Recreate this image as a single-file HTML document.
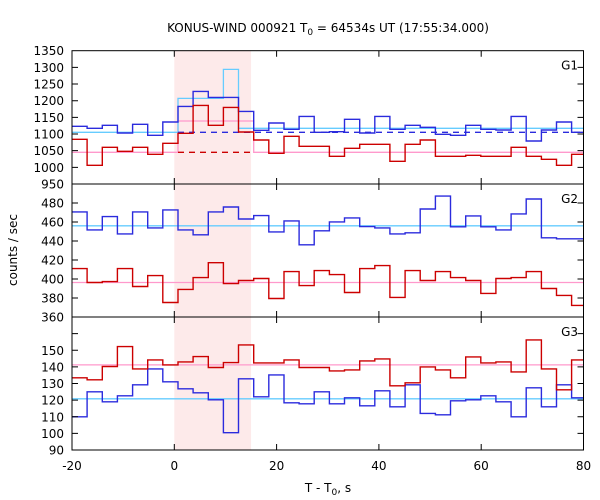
<!DOCTYPE html>
<html><head><meta charset="utf-8"><style>
body{margin:0;background:#fff}
svg{display:block;font-family:"DejaVu Sans","Liberation Sans",sans-serif}
</style></head><body>
<svg id="c" width="600" height="500" xmlns="http://www.w3.org/2000/svg"></svg>
<script>
const g1Blue=[1123,1117,1126,1103,1129,1096,1136,1183,1228,1210,1210,1168,1111,1133,1114,1153,1105,1107,1144,1103,1153,1114,1126,1120,1099,1096,1126,1114,1112,1153,1079,1112,1136,1105];
const g1Red=[1084,1006,1060,1048,1060,1039,1072,1102,1186,1126,1180,1106,1082,1042,1093,1063,1063,1033,1057,1069,1069,1018,1069,1082,1033,1033,1036,1033,1033,1060,1033,1024,1006,1039];
const g2Blue=[470.6,451.7,465.7,447.5,470.6,453.8,472.7,451.7,446.5,470.6,475.8,463.2,466.7,449.6,461.2,436,450.7,460.1,464.3,455.2,453.8,447.5,448.6,473.7,487.3,454.9,466.4,454.9,451.7,468.5,484.2,443.4,442.3,442.3];
const g2Red=[410.9,396.3,397.3,410.9,392.1,403.6,375.3,389,401.5,417.2,395.2,398.4,400.5,379.5,407.8,393.1,408.8,404.6,385.8,410.9,414.1,380.6,408.8,398.4,407.8,401.5,398.4,384.8,400.5,401.5,407.8,390,382.7,372.2];
const g3Blue=[110,125,119,122.6,129.2,138.8,131,126.8,124.4,120.2,100.4,132.8,122,135.2,118.4,117.8,125,117.8,121.4,116.6,125.6,116,129.2,112,111.2,119.6,120.2,122.6,119,110,127.4,116,129.2,121.4];
const g3Red=[133.4,132.2,140.2,152.2,138.8,144.2,141.2,143,146.2,139.6,142.6,153.2,142.4,142.4,144.2,139.6,139.6,137.6,138.2,143.6,144.8,128.6,130.4,140,138.2,133.4,146,142.4,143,137,156.2,138.8,126.2,144.2];
const binStart=-20, binWidth=2.96;
const g1Cyan=[[-20,0.72,1105],[0.72,9.6,1207],[9.6,12.56,1294],[12.56,80,1117]];
const g1Pink=[[-20,0.72,1045],[0.72,15.52,1139],[15.52,80,1045]];
const g1BlueDash=[[0.72,80,1105]];
const g1RedDash=[[0.72,15.52,1045]];
const g2Bg=[456,396.3], g3Bg=[120.8,141.2];
const xTicks=[-20,0,20,40,60,80];
const shade=[0,15];
const panels=[
 {name:'G1',y0:50.7,y1:184,min:950,max:1350,step:50,labels:[950,1000,1050,1100,1150,1200,1250,1300,1350],blue:g1Blue,red:g1Red},
 {name:'G2',y0:184,y1:317,min:360,max:500,step:20,labels:[360,380,400,420,440,460,480],blue:g2Blue,red:g2Red},
 {name:'G3',y0:317,y1:450,min:90,max:170,step:10,labels:[90,100,110,120,130,140,150],blue:g3Blue,red:g3Red}];
const svg=document.getElementById('c');
const NS='http://www.w3.org/2000/svg';
const L=72,R=583.5;
const X=v=>L+(v+20)/100*(R-L);
function mk(t,a,txt){const e=document.createElementNS(NS,t);for(const k in a)e.setAttribute(k,a[k]);if(txt!==undefined)e.textContent=txt;svg.appendChild(e);return e;}
// shading
const sh=mk('rect',{x:X(shade[0]),y:50.7,width:X(shade[1])-X(shade[0]),height:450-50.7,fill:'#fdeaea'});


function steps(vals,Y){let d='';vals.forEach((v,i)=>{const a=Math.max(-20,binStart+i*binWidth),b=Math.min(80,binStart+(i+1)*binWidth);d+=(i?'L':'M')+X(a).toFixed(1)+' '+Y(v).toFixed(1)+'L'+X(b).toFixed(1)+' '+Y(v).toFixed(1);});return d;}
function segs(arr,Y){let d='';arr.forEach((s,i)=>{d+=(i?'L':'M')+X(s[0]).toFixed(1)+' '+Y(s[2]).toFixed(1)+'L'+X(s[1]).toFixed(1)+' '+Y(s[2]).toFixed(1);});return d;}
panels.forEach((p,pi)=>{
 const Y=v=>p.y1-(v-p.min)/(p.max-p.min)*(p.y1-p.y0);
 if(pi==0){
  let e=mk('path',{d:segs(g1Pink,Y),fill:'none',stroke:'#ff99cc','stroke-width':1.3});
  e=mk('path',{d:segs(g1Cyan,Y),fill:'none',stroke:'#66ccff','stroke-width':1.3});
  e=mk('path',{d:segs(g1BlueDash,Y),fill:'none',stroke:'#2b2bdd','stroke-width':1.3,'stroke-dasharray':'6,5'});
  e=mk('path',{d:segs(g1RedDash,Y),fill:'none',stroke:'#cc0000','stroke-width':1.3,'stroke-dasharray':'6,5'});
 } else {
  const bg=pi==1?g2Bg:g3Bg;
  let e=mk('line',{x1:L,x2:R,y1:Y(bg[0]),y2:Y(bg[0]),stroke:'#66ccff','stroke-width':1.3});
  e=mk('line',{x1:L,x2:R,y1:Y(bg[1]),y2:Y(bg[1]),stroke:'#ff99cc','stroke-width':1.3});
 }
 let b=mk('path',{d:steps(p.blue,Y),fill:'none',stroke:'#2b2bdd','stroke-width':1.4});
 
 
 let r=mk('path',{d:steps(p.red,Y),fill:'none',stroke:'#cc0000','stroke-width':1.4});
 
 
 // ticks
 let td='';
 for(let v=p.min+p.step;v<p.max;v+=p.step){td+=`M${L} ${Y(v)}h6M${R} ${Y(v)}h-6`;}
 xTicks.forEach(t=>{td+=`M${X(t)} ${p.y0}v6M${X(t)} ${p.y1}v-6`;});
 let tk=mk('path',{d:td,stroke:'#000','stroke-width':1});
 
 
 let fr=mk('rect',{x:L,y:p.y0,width:R-L,height:p.y1-p.y0,fill:'none',stroke:'#000','stroke-width':1});
 
 
 p.labels.forEach(v=>{let t=mk('text',{x:64,y:Y(v)+4.5,'font-size':12,'text-anchor':'end'},String(v));
  
  });
 let n=mk('text',{x:578,y:p.y0+19,'font-size':12,'text-anchor':'end'},p.name);
 
 
});
xTicks.forEach(t=>{let e=mk('text',{x:X(t),y:470,'font-size':12,'text-anchor':'middle'},String(t));
 
 });
</script>
<svg width="600" height="500" style="position:absolute;left:0;top:0" xmlns="http://www.w3.org/2000/svg">
<text x="328" y="32" font-size="12" text-anchor="middle" font-family="DejaVu Sans,sans-serif">KONUS-WIND 000921 T<tspan font-size="9" dy="3">0</tspan><tspan dy="-3"> = 64534s UT (17:55:34.000)</tspan></text>
<text x="328" y="492" font-size="12" text-anchor="middle" font-family="DejaVu Sans,sans-serif">T - T<tspan font-size="9" dy="3">0</tspan><tspan dy="-3">, s</tspan></text>
<text transform="translate(17,250) rotate(-90)" font-size="12" text-anchor="middle" font-family="DejaVu Sans,sans-serif">counts / sec</text>
</svg>
</body></html>
